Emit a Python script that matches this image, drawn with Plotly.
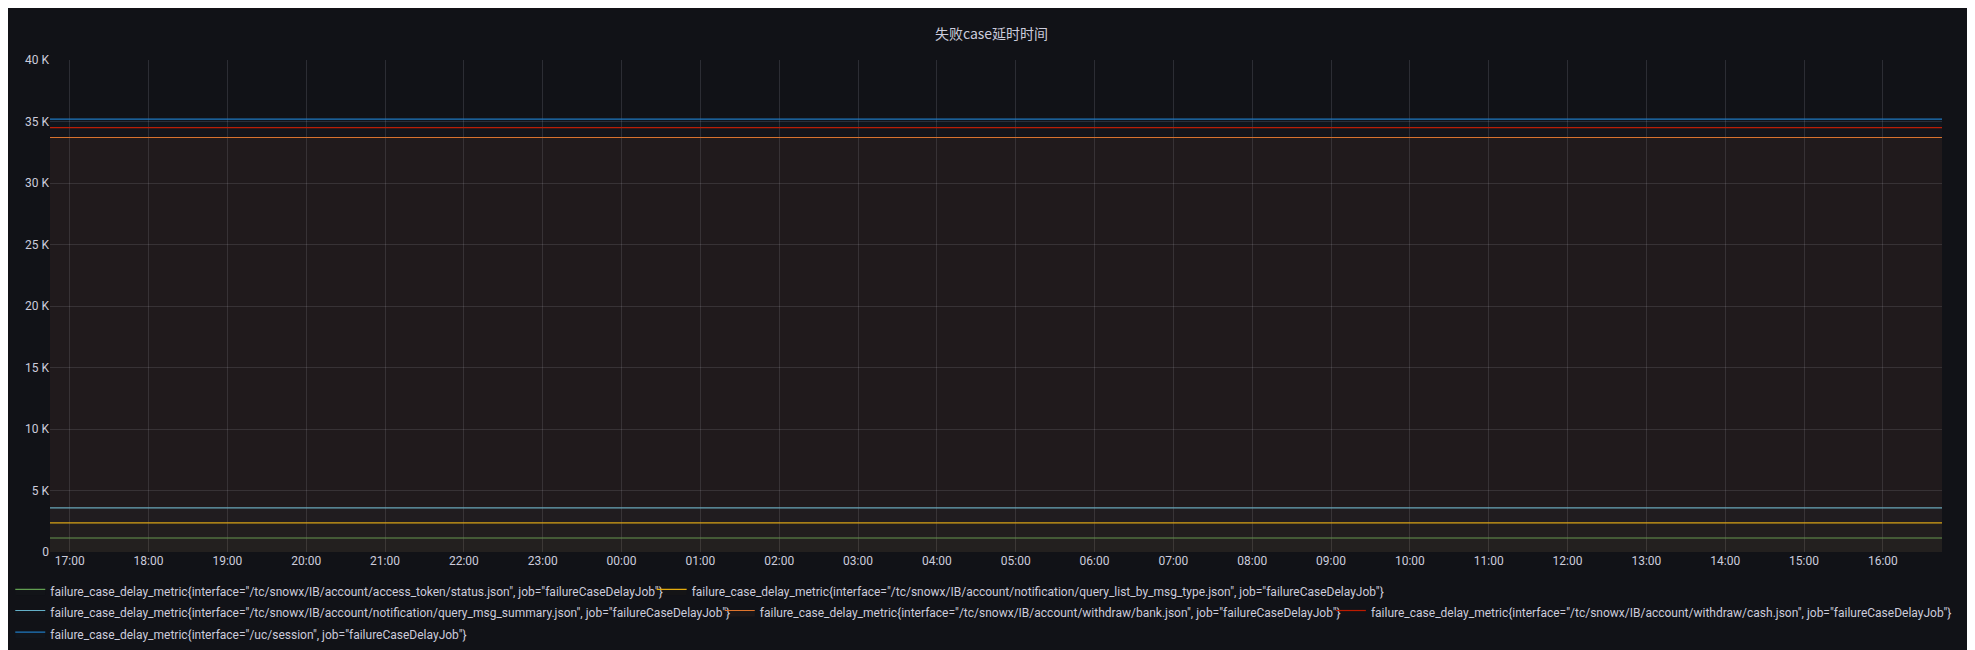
import plotly.graph_objects as go
import pandas as pd

start = "2023-01-01 16:45"
end = "2023-01-02 16:45"
times = pd.date_range(start, end, freq="15min")

names = [
    'failure_case_delay_metric{interface="/tc/snowx/IB/account/access_token/status.json", job="failureCaseDelayJob"}',
    'failure_case_delay_metric{interface="/tc/snowx/IB/account/notification/query_list_by_msg_type.json", job="failureCaseDelayJob"}',
    'failure_case_delay_metric{interface="/tc/snowx/IB/account/notification/query_msg_summary.json", job="failureCaseDelayJob"}',
    'failure_case_delay_metric{interface="/tc/snowx/IB/account/withdraw/bank.json", job="failureCaseDelayJob"}',
    'failure_case_delay_metric{interface="/tc/snowx/IB/account/withdraw/cash.json", job="failureCaseDelayJob"}',
    'failure_case_delay_metric{interface="/uc/session", job="failureCaseDelayJob"}',
]
levels = [1140, 2360, 3580, 33700, 34500, 35200]
colors = ["#629e51", "#e5ac0e", "#64b0c8", "#e0752d", "#bf1b00", "#1f78c1"]
fills = ["rgba(98,158,81,0.02)", "rgba(229,172,14,0.02)", "rgba(100,176,200,0.02)",
         "rgba(224,117,45,0.06)", "rgba(191,27,0,0.025)", "rgba(31,120,193,0.03)"]
legend_ids = ["legend", "legend2", "legend3", "legend4", "legend5", "legend6"]
legend_pos = [(-0.021, -0.080), (0.318, -0.080), (-0.021, -0.123),
              (0.354, -0.123), (0.677, -0.123), (-0.021, -0.167)]

fig = go.Figure()
for n, v, c, f, lg in zip(names, levels, colors, fills, legend_ids):
    fig.add_trace(go.Scatter(x=times, y=[v] * len(times), name=n, mode="lines",
                             line=dict(color=c, width=1.2), fill="tozeroy", fillcolor=f,
                             legend=lg))

legends = {}
for lg, (lx, ly) in zip(legend_ids, legend_pos):
    legends[lg] = dict(orientation="h", x=lx, y=ly, xanchor="left", yanchor="middle",
                       font=dict(size=12, color="#ccccdc"), bgcolor="rgba(0,0,0,0)",
                       itemwidth=30)

fig.update_layout(
    width=1967, height=642,
    paper_bgcolor="#111217", plot_bgcolor="#111217",
    font=dict(family="Roboto, Inter, sans-serif", color="#ccccdc", size=12),
    title=dict(text="失败case延时时间", x=0.5, y=0.96, xanchor="center", yanchor="middle",
               font=dict(size=14, color="#ccccdc", family="Noto Sans CJK SC, Roboto")),
    margin=dict(l=42, r=33, t=52, b=98, autoexpand=False),
    showlegend=True,
    **legends,
)
fig.update_xaxes(range=[start, end], tickformat="%H:%M", dtick=3600000,
                 tick0="2023-01-01 17:00", showgrid=True, gridcolor="rgba(204,204,220,0.15)",
                 zeroline=False, showline=False, ticks="", tickfont=dict(size=12))
fig.update_yaxes(range=[0, 40000],
                 tickvals=[0, 5000, 10000, 15000, 20000, 25000, 30000, 35000, 40000],
                 ticktext=["0", "5 K", "10 K", "15 K", "20 K", "25 K", "30 K", "35 K", "40 K"],
                 showgrid=True, gridcolor="rgba(204,204,220,0.15)", zeroline=False,
                 ticks="", tickfont=dict(size=12))
fig.write_html("out.html")
